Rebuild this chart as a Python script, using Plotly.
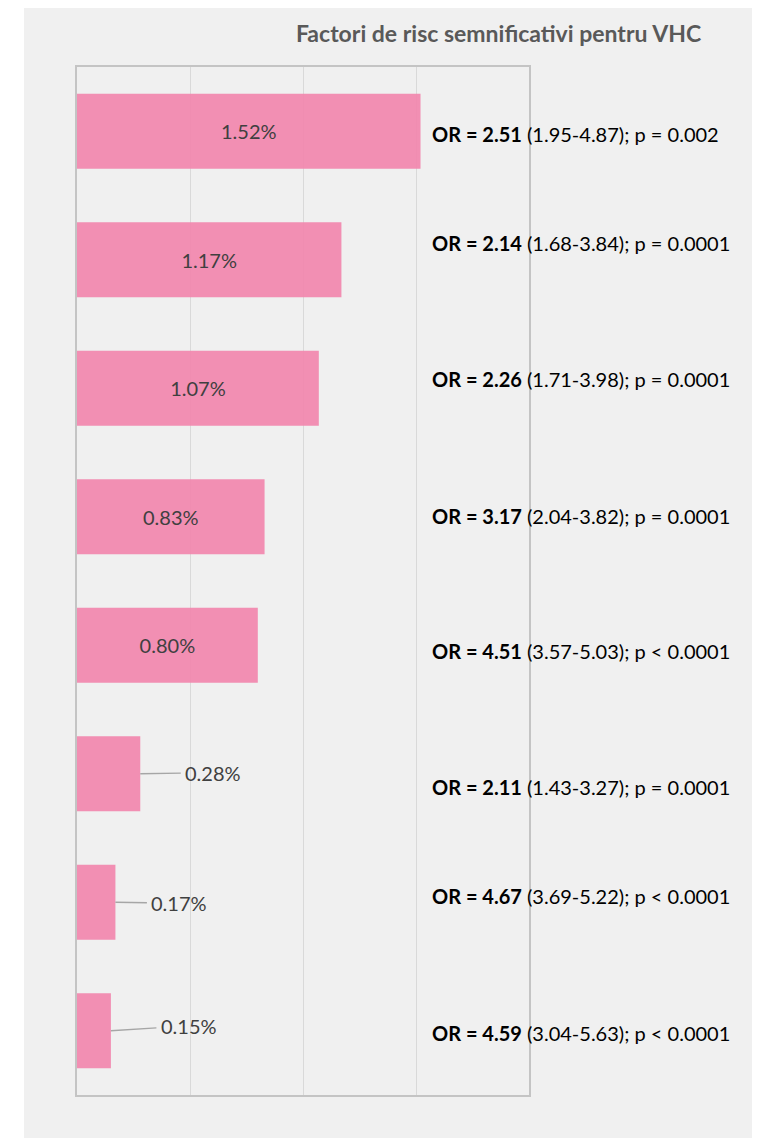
import plotly.graph_objects as go

# ---- data ----
categories = ["F1", "F2", "F3", "F4", "F5", "F6", "F7", "F8"]
prevalence = [1.52, 1.17, 1.07, 0.83, 0.80, 0.28, 0.17, 0.15]
or_values = [2.51, 2.14, 2.26, 3.17, 4.51, 2.11, 4.67, 4.59]
ci_low = [1.95, 1.68, 1.71, 2.04, 3.57, 1.43, 3.69, 3.04]
ci_high = [4.87, 3.84, 3.98, 3.82, 5.03, 3.27, 5.22, 5.63]
p_labels = ["p = 0.002", "p = 0.0001", "p = 0.0001", "p = 0.0001",
            "p < 0.0001", "p = 0.0001", "p < 0.0001", "p < 0.0001"]
title_text = "Factori de risc semnificativi pentru VHC"

# ---- styling ----
OFF = 8  # browser body margin
W, H = 761 - OFF, 1140 - OFF
L, T = 77 - OFF, 67 - OFF
R, B = W - (529 - OFF), H - (1095 - OFF)
FONT = "Lato, 'Open Sans', sans-serif"
LABEL_COLOR = "#404040"
BAR_COLOR = "rgba(242,132,172,0.9)"
or_yshift = [-3, 17, 9, 1, -6, -13, 6, -2]          # pixel offsets of OR texts
outside_offsets = {5: (73, -1), 6: (64, 1), 7: (78, -5)}  # leader-line label offsets

pw, ph = W - L - R, H - T - B

inside_text = [f"{v:.2f}%" if v >= 0.5 else "" for v in prevalence]

fig = go.Figure()
fig.add_trace(go.Bar(
    x=prevalence, y=categories, orientation="h",
    marker=dict(color=BAR_COLOR, line=dict(width=0)),
    text=inside_text, textposition="inside", insidetextanchor="middle",
    textfont=dict(family=FONT, size=20, color=LABEL_COLOR),
    hoverinfo="skip",
))

annotations = []
for i, (o, lo, hi, p) in enumerate(zip(or_values, ci_low, ci_high, p_labels)):
    annotations.append(dict(
        xref="paper", yref="y", x=(430 - 77) / pw, y=categories[i],
        xanchor="left", yanchor="middle", yshift=or_yshift[i],
        text=f"<b>OR = {o:.2f}</b> ({lo:.2f}-{hi:.2f}); {p}",
        showarrow=False, font=dict(family=FONT, size=20, color="#000000"),
    ))
for i, v in enumerate(prevalence):
    if v < 0.5:
        ax, ay = outside_offsets[i]
        annotations.append(dict(
            xref="x", yref="y", x=v, y=categories[i],
            text=f"{v:.2f}%", showarrow=True, arrowhead=0, arrowwidth=1.3,
            arrowcolor="#a6a6a6", ax=ax, ay=ay, standoff=0, borderpad=4,
            font=dict(family=FONT, size=20, color=LABEL_COLOR),
        ))

fig.update_layout(
    width=W, height=H,
    margin=dict(l=L, r=R, t=T, b=B),
    paper_bgcolor="white",
    plot_bgcolor="rgba(0,0,0,0)",
    showlegend=False,
    bargap=0.416,
    title=dict(text=f"<b>{title_text}</b>", xref="container", yref="container",
               x=(498.5 - OFF) / W, y=1 - (34 - OFF) / H, xanchor="center", yanchor="middle",
               font=dict(family=FONT, size=23, color="#595959")),
    xaxis=dict(range=[0, 2], dtick=0.5, showticklabels=False, ticks="",
               showgrid=True, gridcolor="#d9d9d9", gridwidth=1,
               showline=True, mirror=True, linecolor="#c4c4c4", linewidth=1.5,
               zeroline=False, fixedrange=True),
    yaxis=dict(categoryorder="array", categoryarray=categories,
               autorange="reversed", showticklabels=False, ticks="",
               showgrid=False, showline=True, mirror=True,
               linecolor="#c4c4c4", linewidth=1.5, zeroline=False),
    annotations=annotations,
    shapes=[dict(type="rect", xref="paper", yref="paper", layer="below",
                 x0=(24 - 77) / pw, x1=(752 - 77) / pw,
                 y0=(1095 - 1138) / ph, y1=(1095 - 0) / ph,
                 fillcolor="#f0f0f0", line=dict(width=0))],
)

fig.write_html("out.html")
